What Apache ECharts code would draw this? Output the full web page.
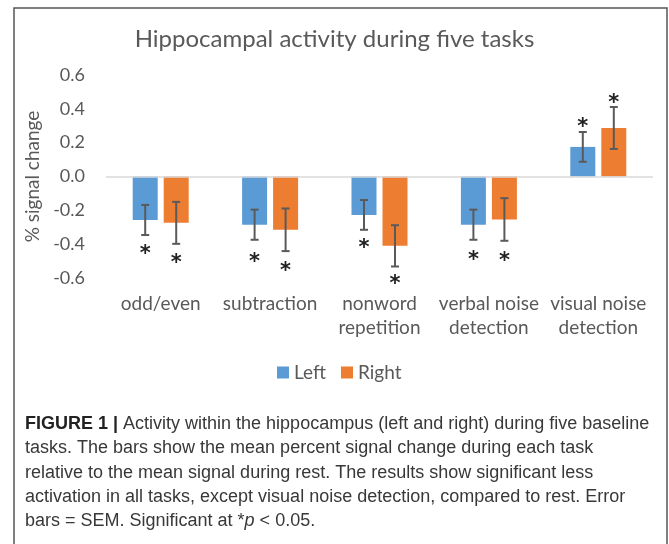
<!DOCTYPE html>
<html lang="en">
<head>
<meta charset="UTF-8">
<title>Hippocampal activity during five tasks</title>
<script src="https://cdn.jsdelivr.net/npm/echarts@6/dist/echarts.min.js"></script>
<style>
	* { margin: 0; padding: 0; }
	html, body, #main { width: 100%; height: 100%; background: #fff; }
</style>
</head>
<body>
<div id="main"></div>
<script>
	// values
	const tasks = ['odd/even', 'subtraction', 'nonword\nrepetition', 'verbal noise\ndetection', 'visual noise\ndetection'];
	const leftMean = [-0.257, -0.285, -0.227, -0.285, 0.175];
	const rightMean = [-0.274, -0.315, -0.41, -0.254, 0.287];
	const leftSem = [0.089, 0.089, 0.088, 0.089, 0.088];
	const rightSem = [0.124, 0.126, 0.122, 0.126, 0.124];
	// where the significance stars sit (in % signal change units)
	const leftStar = [-0.44, -0.485, -0.405, -0.473, 0.313];
	const rightStar = [-0.49, -0.54, -0.617, -0.48, 0.455];
	const yTicks = [-0.6, 0.6, 0.2];

	const captionLines = [
		'{b|FIGURE 1 |} Activity within the hippocampus (left and right) during five baseline',
		'tasks. The bars show the mean percent signal change during each task',
		'relative to the mean signal during rest. The results show significant less',
		'activation in all tasks, except visual noise detection, compared to rest. Error',
		'bars = SEM. Significant at *{i|p} < 0.05.'
	];

	const chartDom = document.getElementById('main');
	const myChart = echarts.init(chartDom);

	const grey = '#595959';
	const font = 'Lato';
	const barW = 25;
	const shift = 15.5; // half of bar width + gap

	function errorSeries(name, mean, sem, star, dx) {
		const data = mean.map((m, i) => [i, m, sem[i], star[i]]);
		return {
			name: name + ' err',
			type: 'custom',
			silent: true,
			z: 5,
			encode: { x: 0, y: 1 },
			data: data,
			renderItem: function (params, api) {
				const i = api.value(0);
				const m = api.value(1);
				const s = api.value(2);
				const st = api.value(3);
				const x = api.coord([i, 0])[0] + dx;
				const yTop = api.coord([i, m + s])[1];
				const yBot = api.coord([i, m - s])[1];
				const ys = api.coord([i, st])[1];
				const ls = { stroke: '#5a5a5a', lineWidth: 2 };
				return {
					type: 'group',
					children: [
						{ type: 'line', shape: { x1: x, y1: yTop, x2: x, y2: yBot }, style: ls },
						{ type: 'line', shape: { x1: x - 4, y1: yTop, x2: x + 4, y2: yTop }, style: ls },
						{ type: 'line', shape: { x1: x - 4, y1: yBot, x2: x + 4, y2: yBot }, style: ls },
						{
							type: 'text',
							x: x,
							y: ys + 4,
							style: {
								text: '*',
								fill: '#222',
								font: 'bold 21px "DejaVu Sans"',
								align: 'center',
								verticalAlign: 'middle'
							}
						}
					]
				};
			}
		};
	}

	const graphics = [{
		type: 'rect',
		shape: { x: 14, y: 8, width: 653, height: 600 },
		style: { fill: 'none', stroke: '#555', lineWidth: 1.5 },
		silent: true
	}];
	captionLines.forEach((line, k) => {
		graphics.push({
			type: 'text',
			left: 25,
			top: 415 + k * 24.3,
			style: {
				text: line,
				fill: '#383838',
				fontSize: 18,
				fontFamily: 'Liberation Sans',
				rich: {
					b: { fontWeight: 'bold', fontSize: 18, fontFamily: 'Liberation Sans', fill: '#222' },
					i: { fontStyle: 'italic', fontSize: 18, fontFamily: 'Liberation Sans', fill: '#383838' }
				}
			}
		});
	});

	const option = {
		animation: false,
		backgroundColor: '#fff',
		title: {
			text: 'Hippocampal activity during five tasks',
			left: 'center',
			top: 22,
			textStyle: { color: grey, fontSize: 24, fontWeight: 'normal', fontFamily: font }
		},
		legend: {
			left: 272,
			top: 358,
			itemWidth: 12,
			itemHeight: 12,
			itemGap: 15,
			icon: 'rect',
			data: ['Left', 'Right'],
			textStyle: { color: grey, fontSize: 19, fontFamily: font }
		},
		grid: { left: 106, right: 16, top: 75, bottom: 266, containLabel: false },
		xAxis: {
			type: 'category',
			data: tasks,
			axisLine: { show: false },
			axisTick: { show: false },
			axisLabel: {
				color: grey,
				fontSize: 19,
				fontFamily: font,
				lineHeight: 24,
				margin: 14,
				interval: 0
			}
		},
		yAxis: {
			type: 'value',
			min: yTicks[0],
			max: yTicks[1],
			interval: yTicks[2],
			name: '% signal change',
			nameLocation: 'middle',
			nameRotate: 90,
			nameGap: 59,
			nameTextStyle: { color: grey, fontSize: 19, fontFamily: font },
			axisLine: { show: false },
			axisTick: { show: false },
			splitLine: { show: false },
			axisLabel: {
				color: grey,
				fontSize: 18,
				fontFamily: font,
				margin: 21,
				formatter: v => (Math.abs(v) < 1e-9 ? 0 : v).toFixed(1)
			}
		},
		series: [
			{
				name: 'Left',
				type: 'bar',
				data: leftMean,
				barWidth: barW,
				barGap: '24%',
				itemStyle: { color: '#5B9BD5' },
				markLine: {
					silent: true,
					symbol: 'none',
					label: { show: false },
					lineStyle: { color: '#d9d9d9', type: 'solid', width: 1.5 },
					data: [{ yAxis: 0 }]
				}
			},
			{
				name: 'Right',
				type: 'bar',
				data: rightMean,
				barWidth: barW,
				itemStyle: { color: '#ED7D31' }
			},
			errorSeries('Left', leftMean, leftSem, leftStar, -shift),
			errorSeries('Right', rightMean, rightSem, rightStar, shift)
		],
		graphic: graphics
	};

	myChart.setOption(option);
</script>
</body>
</html>
